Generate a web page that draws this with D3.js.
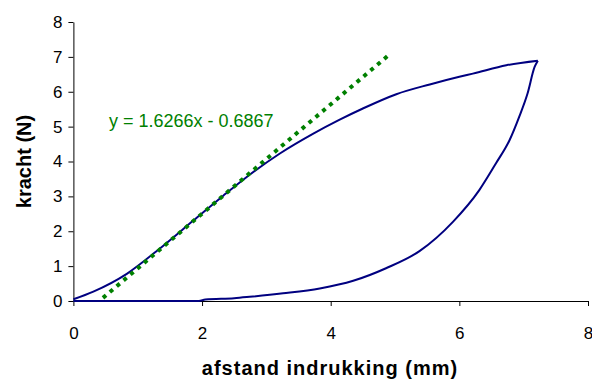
<!DOCTYPE html>
<html>
<head>
<meta charset="utf-8">
<script src="https://cdn.jsdelivr.net/npm/d3@7"></script>
<style>
  body { margin: 0; background: #fff; }
  svg { font-family: Arial, "Liberation Sans", sans-serif; }
</style>
</head>
<body>
<div id="chart"></div>
<script>
// loading curve (indrukken)
var loadX = [0, 0.31, 0.83, 1.34, 1.86, 2.33, 2.69, 3.21, 3.73, 4.14, 4.5, 5.02, 5.54, 6.0, 6.21, 6.73, 7.22]
var loadY = [0.05, 0.27, 0.78, 1.5, 2.3, 3.02, 3.55, 4.23, 4.8, 5.2, 5.52, 5.93, 6.21, 6.43, 6.52, 6.76, 6.89]

// unloading curve (terug), ascending x
var unloadX = [0, 1.95, 2.05, 2.5, 2.74, 3.26, 3.83, 4.35, 4.86, 5.38, 5.9, 6.31, 6.57, 6.78, 6.93, 7.06, 7.17, 7.22]
var unloadY = [0, 0, 0.04, 0.08, 0.12, 0.22, 0.36, 0.58, 0.94, 1.43, 2.27, 3.18, 3.95, 4.61, 5.28, 5.95, 6.71, 6.89]

// trendline as drawn
var trendX = [0.46, 4.92]
var trendY = [0.09, 7.08]
var trendLabel = "y = 1.6266x - 0.6867"

var xTicks = [0, 2, 4, 6, 8]
var yTicks = [0, 1, 2, 3, 4, 5, 6, 7, 8]

var width = 592
var height = 383
var margin = {top: 22, right: 4, bottom: 82, left: 73.4}
var w = width - margin.left - margin.right
var h = height - margin.top - margin.bottom

var svg = d3.select("#chart")
  .append("svg")
  .attr("width", width)
  .attr("height", height)

var g = svg.append("g")
  .attr("transform", "translate(" + margin.left + "," + margin.top + ")")

var x = d3.scaleLinear().domain([0, 8]).range([0, w])
var y = d3.scaleLinear().domain([0, 8]).range([h, 0])

// axes
var xAxis = g.append("g")
  .attr("transform", "translate(0," + h + ")")
  .call(d3.axisBottom(x).tickValues(xTicks).tickSize(5).tickSizeOuter(0).tickPadding(21))
var yAxis = g.append("g")
  .call(d3.axisLeft(y).tickValues(yTicks).tickSize(5).tickSizeOuter(0).tickPadding(6))

;[xAxis, yAxis].forEach(function(a) {
  a.selectAll("text").style("font-size", "17px").attr("fill", "#000")
  a.select(".domain").attr("stroke", "#000")
  a.selectAll("line").attr("stroke", "#000")
  a.attr("font-family", null)
})
xAxis.selectAll("text").attr("dy", "0.71em")

// axis titles
svg.append("text")
  .attr("x", 330)
  .attr("y", 375)
  .style("text-anchor", "middle")
  .style("font-weight", "bold")
  .style("font-size", "20px")
  .style("letter-spacing", "1px")
  .text("afstand indrukking (mm)")

svg.append("text")
  .attr("transform", "translate(31," + (margin.top + h / 2) + ") rotate(-90)")
  .style("text-anchor", "middle")
  .style("font-weight", "bold")
  .style("font-size", "20px")
  .text("kracht (N)")

var line = d3.line()
  .x(function(d) { return x(d[0]) })
  .y(function(d) { return y(d[1]) })
  .curve(d3.curveMonotoneX)

var loadData = loadX.map(function(v, i) { return [v, loadY[i]] })
var unloadData = unloadX.map(function(v, i) { return [v, unloadY[i]] })
var trendData = trendX.map(function(v, i) { return [v, trendY[i]] })

g.append("path")
  .datum(unloadData)
  .attr("d", line)
  .attr("fill", "none")
  .attr("stroke", "#000080")
  .attr("stroke-width", 2)

g.append("path")
  .datum(loadData)
  .attr("d", line)
  .attr("fill", "none")
  .attr("stroke", "#000080")
  .attr("stroke-width", 2)

g.append("path")
  .datum(trendData)
  .attr("d", d3.line().x(function(d) { return x(d[0]) }).y(function(d) { return y(d[1]) }))
  .attr("fill", "none")
  .attr("stroke", "#008000")
  .attr("stroke-width", 4)
  .attr("stroke-dasharray", "4,5")

svg.append("text")
  .attr("x", 109)
  .attr("y", 127)
  .attr("fill", "#008000")
  .style("font-size", "18px")
  .text(trendLabel)
</script>
</body>
</html>
